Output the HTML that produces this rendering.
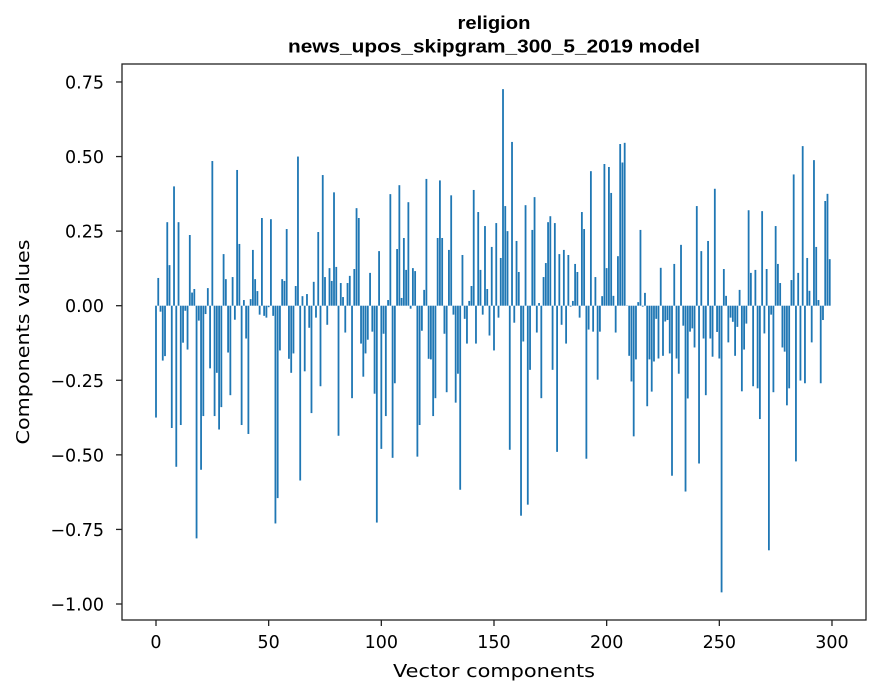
<!DOCTYPE html>
<html><head><meta charset="utf-8"><style>
html,body{margin:0;padding:0;background:#fff;}
svg{display:block;font-family:"DejaVu Sans","Liberation Sans",sans-serif;}
</style></head><body>
<svg id="chart" width="880" height="696" viewBox="0 0 880 696" xmlns="http://www.w3.org/2000/svg">
<rect x="0" y="0" width="880" height="696" fill="#fff"/>
<text x="494" y="29" text-anchor="middle" font-size="18.5" font-weight="bold" font-family="Liberation Sans, sans-serif" textLength="73" lengthAdjust="spacingAndGlyphs">religion</text>
<text x="494" y="52.5" text-anchor="middle" font-size="18.5" font-weight="bold" font-family="Liberation Sans, sans-serif" textLength="412" lengthAdjust="spacingAndGlyphs">news_upos_skipgram_300_5_2019 model</text>
<g id="bars"></g>
<rect x="122" y="64" width="744" height="556" fill="none" stroke="#222" stroke-width="1.3"/>
<g id="xticks"></g>
<g id="yticks"></g>
<text x="494" y="677" text-anchor="middle" font-size="18" textLength="202" lengthAdjust="spacingAndGlyphs">Vector components</text>
<text transform="translate(29,342) rotate(-90)" text-anchor="middle" font-size="18" textLength="205" lengthAdjust="spacingAndGlyphs">Components values</text>
</svg>
<script>
const values = [
-0.375,0.093,-0.02,-0.184,-0.169,0.28,0.136,-0.41,0.40,-0.54,
0.28,-0.40,-0.124,-0.017,-0.147,0.237,0.044,0.056,-0.78,-0.05,
-0.55,-0.37,-0.028,0.059,-0.21,0.485,-0.37,-0.225,-0.415,-0.34,
0.173,0.089,-0.157,-0.30,0.096,-0.047,0.455,0.207,-0.40,0.019,
-0.11,-0.43,0.022,0.187,0.089,0.049,-0.03,0.294,-0.034,-0.04,
-0.005,0.29,-0.034,-0.73,-0.645,-0.15,0.089,0.083,0.257,-0.178,
-0.225,-0.16,0.066,0.50,-0.586,0.032,-0.22,0.039,-0.074,-0.36,
0.08,-0.04,0.247,-0.27,0.438,0.096,-0.064,0.126,0.083,0.38,
0.13,-0.436,0.076,0.029,-0.09,0.076,0.10,-0.31,0.123,0.327,
0.294,-0.127,-0.238,-0.16,-0.114,0.11,-0.087,-0.295,-0.727,0.183,
-0.48,-0.094,-0.37,0.019,0.374,-0.51,-0.26,0.19,0.404,0.026,
0.227,0.12,0.347,-0.01,0.126,0.116,-0.506,-0.40,-0.084,0.053,
0.425,-0.178,-0.18,-0.37,-0.31,0.227,0.42,0.227,-0.094,-0.29,
0.187,0.37,-0.03,-0.325,-0.228,-0.617,0.17,-0.044,-0.127,0.016,
0.066,0.388,-0.127,0.314,0.12,-0.03,0.267,0.056,-0.10,0.197,
-0.15,0.277,-0.04,0.16,0.726,0.334,0.25,-0.483,0.549,-0.057,
0.217,0.113,-0.704,-0.12,0.337,-0.667,-0.215,0.254,0.364,-0.09,
0.009,-0.31,0.096,0.143,0.28,0.30,-0.215,0.277,-0.49,0.173,
-0.064,0.187,-0.127,0.17,-0.003,0.016,0.14,0.113,-0.04,0.314,
0.257,-0.513,-0.08,0.451,-0.087,0.096,-0.248,-0.087,0.032,0.475,
0.126,0.465,0.378,0.033,-0.09,0.166,0.542,0.48,0.546,0.0,
-0.168,-0.254,-0.438,-0.18,0.012,0.254,-0.003,0.043,-0.337,-0.18,
-0.288,-0.187,-0.044,-0.177,0.127,-0.168,-0.053,-0.048,-0.16,-0.57,
0.14,-0.177,-0.228,0.204,-0.067,-0.623,-0.311,-0.087,-0.076,-0.14,
0.334,-0.529,0.183,-0.11,-0.30,0.217,-0.11,-0.171,0.392,-0.088,
-0.177,-0.961,0.123,0.033,-0.123,-0.04,-0.054,-0.168,-0.071,0.053,
-0.287,-0.147,-0.06,0.32,0.11,-0.27,0.12,-0.277,-0.38,0.317,
-0.093,0.123,-0.82,-0.03,-0.29,0.267,0.14,0.076,-0.14,-0.154,
-0.334,-0.277,0.086,0.44,-0.522,0.11,-0.251,0.535,-0.26,0.16,
0.05,-0.123,0.488,0.197,0.019,-0.26,-0.048,0.351,0.375,0.156
];
const xTicks = [0,50,100,150,200,250,300];
const yTicks = [-1.00,-0.75,-0.50,-0.25,0.00,0.25,0.50,0.75];

const NS = "http://www.w3.org/2000/svg";
function xScale(v){ return 156 + v*2.2533; }
function yScale(v){ return 305.7 - v*298.3; }
const barsG = document.getElementById('bars');
values.forEach(function(v,i){
  const r = document.createElementNS(NS,'rect');
  const y0 = yScale(0), y1 = yScale(v);
  r.setAttribute('x', xScale(i-0.4));
  r.setAttribute('width', xScale(0.8)-xScale(0));
  r.setAttribute('y', Math.min(y0,y1));
  r.setAttribute('height', Math.max(Math.abs(y1-y0),0.3));
  r.setAttribute('fill','#1f77b4');
  
  
  barsG.appendChild(r);
});
const xg = document.getElementById('xticks');
xTicks.forEach(function(t){
  const x = xScale(t);
  const l = document.createElementNS(NS,'line');
  l.setAttribute('x1',x);l.setAttribute('x2',x);l.setAttribute('y1',620);l.setAttribute('y2',626);
  l.setAttribute('stroke','#222');l.setAttribute('stroke-width','1.3');
  
  
  xg.appendChild(l);
  const tx = document.createElementNS(NS,'text');
  tx.setAttribute('x',x);tx.setAttribute('y',648);tx.setAttribute('text-anchor','middle');tx.setAttribute('font-size','17.5');
  tx.textContent = String(t);
  
  
  xg.appendChild(tx);
});
const yg = document.getElementById('yticks');
yTicks.forEach(function(t){
  const y = yScale(t);
  const l = document.createElementNS(NS,'line');
  l.setAttribute('x1',116);l.setAttribute('x2',122);l.setAttribute('y1',y);l.setAttribute('y2',y);
  l.setAttribute('stroke','#222');l.setAttribute('stroke-width','1.3');
  
  
  yg.appendChild(l);
  const tx = document.createElementNS(NS,'text');
  tx.setAttribute('x',104);tx.setAttribute('y',y+6.5);tx.setAttribute('text-anchor','end');tx.setAttribute('font-size','17.5');
  tx.textContent = (t<0?'\u2212':'') + Math.abs(t).toFixed(2);
  
  
  xg.appendChild(tx);
});
</script>
</body></html>
